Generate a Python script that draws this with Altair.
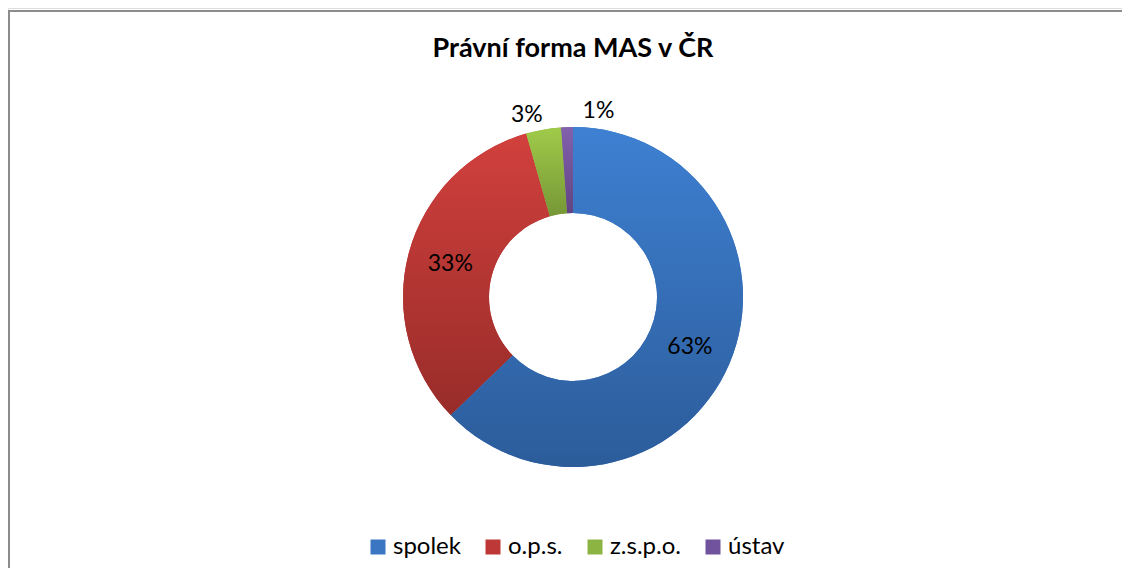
import altair as alt
import pandas as pd

categories = ["spolek", "o.p.s.", "z.s.p.o.", "ústav"]
counts = [113, 59, 6, 2]
labels = ["63%", "33%", "3%", "1%"]
order_idx = [0, 1, 2, 3]
title_text = ["Právní forma MAS v ČR"]

solid_colors = ["#3A76C2", "#BE3837", "#8CB443", "#70539C"]
grad_top = ["#3E80D2", "#D1403D", "#A0CB49", "#8261AD"]
grad_bottom = ["#2C5C9A", "#982C29", "#769737", "#614483"]

df = pd.DataFrame({"category": categories, "count": counts, "label": labels, "idx": order_idx})

FONT = "Lato"
CX, CY = 565, 289
R_IN, R_OUT = 84, 170


def grad(top, bottom):
    return {
        "gradient": "linear",
        "x1": 0, "y1": 0, "x2": 0, "y2": 1,
        "stops": [{"offset": 0, "color": top}, {"offset": 1, "color": bottom}],
    }


base = alt.Chart(df)

arc_solid = base.mark_arc(innerRadius=R_IN, outerRadius=R_OUT).encode(
    theta=alt.Theta("count:Q", stack=True),
    order=alt.Order("idx:Q"),
    color=alt.Color(
        "category:N",
        scale=alt.Scale(domain=categories, range=solid_colors),
        sort=categories,
        legend=alt.Legend(
            title=None, orient="none", legendX=358, legendY=527,
            direction="horizontal", columns=4,
            symbolType="square", symbolSize=225, symbolStrokeWidth=0,
            labelFont=FONT, labelFontSize=24, labelColor="#000000",
            labelOffset=3, columnPadding=20, symbolOpacity=1,
        ),
    ),
    x=alt.value(CX), y=alt.value(CY),
)

conds = [
    {"test": f"datum.category === '{c}'", "value": grad(t, b)}
    for c, t, b in zip(categories[:-1], grad_top[:-1], grad_bottom[:-1])
]
arc_grad = base.mark_arc(innerRadius=R_IN, outerRadius=R_OUT).encode(
    theta=alt.Theta("count:Q", stack=True),
    order=alt.Order("idx:Q"),
    fill={"condition": conds, "value": grad(grad_top[-1], grad_bottom[-1])},
    x=alt.value(CX), y=alt.value(CY),
)

angles = base.transform_joinaggregate(
    total="sum(count)"
).transform_window(
    cum="sum(count)", sort=[alt.SortField("idx")]
).transform_calculate(
    mid="2 * PI * (datum.cum - datum.count / 2) / datum.total"
)

big_labels = angles.transform_filter("datum.count / datum.total >= 0.05").mark_text(
    radius=(R_IN + R_OUT) / 2, font=FONT, fontSize=23, color="#000000"
).encode(
    theta=alt.Theta("mid:Q", scale=None),
    text="label:N",
    x=alt.value(CX), y=alt.value(CY),
)

lab_zspo = angles.transform_filter("datum.category === 'z.s.p.o.'").mark_text(
    radius=185, dx=-14, font=FONT, fontSize=23, color="#000000"
).encode(
    theta=alt.Theta("mid:Q", scale=None),
    text="label:N",
    x=alt.value(CX), y=alt.value(CY),
)

lab_ustav = angles.transform_filter("datum.category === 'ústav'").mark_text(
    radius=186, dx=32, font=FONT, fontSize=23, color="#000000"
).encode(
    theta=alt.Theta("mid:Q", scale=None),
    text="label:N",
    x=alt.value(CX), y=alt.value(CY),
)

title = alt.Chart(pd.DataFrame({"t": title_text})).mark_text(
    font=FONT, fontSize=27, fontWeight="bold", color="#000000",
    align="center", baseline="alphabetic",
).encode(text="t:N", x=alt.value(CX), y=alt.value(49))

frame_src = alt.Chart(pd.DataFrame({"f": [0]}))
frame_top = frame_src.mark_rule(stroke="#8C8C8C", strokeWidth=2).encode(
    x=alt.value(0), x2=alt.value(1114), y=alt.value(3)
)
frame_left = frame_src.mark_rule(stroke="#8C8C8C", strokeWidth=2).encode(
    x=alt.value(1), y=alt.value(2), y2=alt.value(560)
)

chart = alt.layer(
    frame_top, frame_left, arc_solid, arc_grad, big_labels, lab_zspo, lab_ustav, title
).properties(
    width=1114,
    height=560,
    padding=0,
    autosize=alt.AutoSizeParams(type="none"),
).configure_view(stroke="transparent", strokeWidth=0).configure(background="#FFFFFF")

chart.save("out.html", embed_options={"renderer": "svg", "actions": False})
